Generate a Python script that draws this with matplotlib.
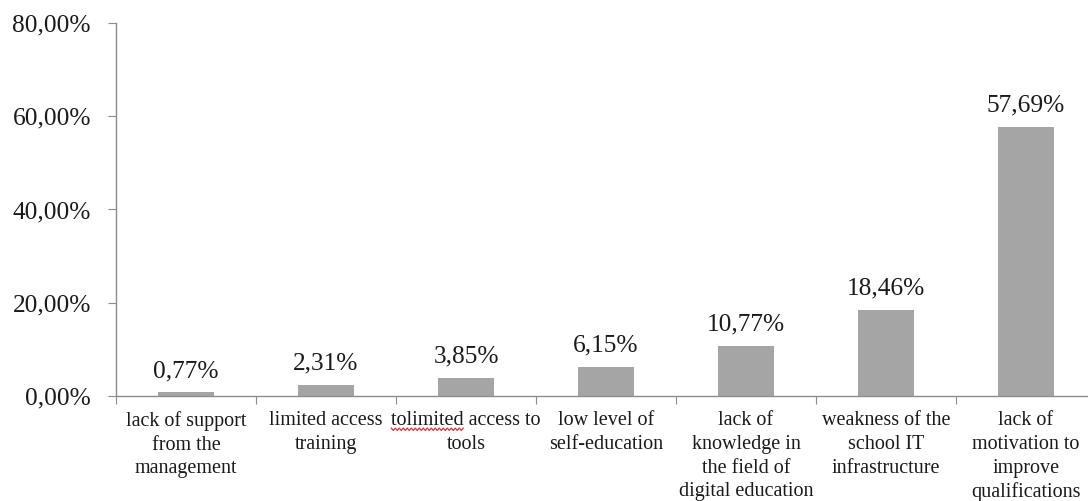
import matplotlib
matplotlib.use("Agg")
from matplotlib import pyplot as plt
from matplotlib.ticker import FuncFormatter
from matplotlib.transforms import IdentityTransform
import numpy as np

categories = [
    "lack of support\nfrom the\nmanagement",
    "limited access\ntraining",
    "tolimited access to\ntools",
    "low level of\nself-education",
    "lack of\nknowledge in\nthe field of\ndigital education",
    "weakness of the\nschool IT\ninfrastructure",
    "lack of\nmotivation to\nimprove\nqualifications",
]
values = [0.77, 2.31, 3.85, 6.15, 10.77, 18.46, 57.69]
y_ticks = [0, 20, 40, 60, 80]

plt.rcParams["font.family"] = ["Liberation Serif", "DejaVu Serif"]

fig = plt.figure(figsize=(10.88, 5.01), dpi=100)
ax = fig.add_axes([0.1066, 0.2096, 0.9008, 0.7445])

x = np.arange(len(values))
bars = ax.bar(x, values, width=0.4, color="#a5a5a5")

for rect, v in zip(bars, values):
    ax.annotate(f"{v:.2f}%".replace(".", ","),
                (rect.get_x() + rect.get_width() / 2, v),
                xytext=(0, 7.5), textcoords="offset points",
                ha="center", va="bottom", fontsize=18.3, color="#1a1a1a")

ax.set_xlim(-0.5, len(values) - 0.5)
ax.set_ylim(0, 80)
ax.set_yticks(y_ticks)
ax.yaxis.set_major_formatter(FuncFormatter(lambda v, p: f"{v:.2f}%".replace(".", ",")))

ax.set_xticks(np.arange(len(values) + 1) - 0.5)
ax.set_xticklabels([])
ax.set_xticks(x, minor=True)
ax.set_xticklabels(categories, minor=True, fontsize=14.5, linespacing=1.33, color="#1a1a1a")
ax.tick_params(axis="x", which="minor", length=0, pad=11)
ax.tick_params(axis="x", which="major", length=6, direction="out", color="#8c8c8c")
ax.tick_params(axis="y", length=6, direction="out", color="#8c8c8c",
               labelsize=18.3, pad=12, labelcolor="#1a1a1a")

for s in ["top", "right"]:
    ax.spines[s].set_visible(False)
for s in ["left", "bottom"]:
    ax.spines[s].set_color("#8c8c8c")
    ax.spines[s].set_linewidth(1.0)

# red spell-check squiggle under "tolimited", placed from the label's own extent
fig.canvas.draw()
renderer = fig.canvas.get_renderer()
lab = ax.xaxis.get_minorticklabels()[2]
bb = lab.get_window_extent(renderer)
first_line, word = categories[2].split("\n")[0], "tolimited"
tmp1 = fig.text(0, 0, first_line, fontsize=14.5)
tmp2 = fig.text(0, 0, word, fontsize=14.5)
w_line = tmp1.get_window_extent(renderer).width
h_line = tmp1.get_window_extent(renderer).height
w_word = tmp2.get_window_extent(renderer).width
tmp1.remove()
tmp2.remove()
x0 = (bb.x0 + bb.x1) / 2 - w_line / 2
y0 = bb.y1 - h_line + 1
xs = np.arange(x0, x0 + w_word, 2.0)
ys = y0 + np.where(np.arange(len(xs)) % 2 == 0, 1.2, -1.2)
fig.add_artist(plt.Line2D(xs, ys, transform=IdentityTransform(), color="#e03030", lw=0.9))

plt.savefig("out.png", dpi=100)
